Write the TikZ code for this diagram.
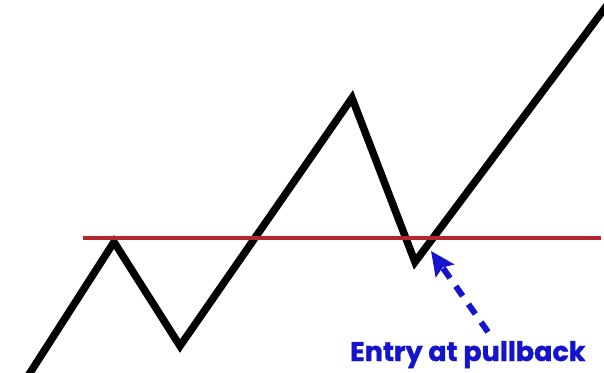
\documentclass[tikz,border=0pt]{standalone}
\usepackage{fontspec}
\setmainfont{Poppins}
\newfontfamily\tagfont[BoldFeatures={FakeBold=1.2}]{Poppins}
\usepackage{xcolor}
\usetikzlibrary{arrows.meta,positioning}
\definecolor{levelred}{RGB}{180,40,45}
\definecolor{entryblue}{RGB}{20,20,205}

\begin{document}
\begin{tikzpicture}[
      x=1pt, y=-1pt,
      price/.style={line width=7.5pt, line join=miter, black},
      level/.style={line width=3.5pt, levelred},
      hint/.style={-{Stealth[length=24pt, width=22pt, inset=4pt]}, line width=6pt,
                   dash pattern=on 12pt off 10pt, entryblue},
      tag/.style={font=\tagfont\bfseries\fontsize{27}{32}\selectfont, text=entryblue, inner sep=0pt}
    ]
    \useasboundingbox (0,0) rectangle (604,372);
    \clip (0,0) rectangle (604,372);

    % price swings
    \coordinate (start)  at (28,376);
    \coordinate (peakA)  at (114,242);
    \coordinate (lowA)   at (180,346);
    \coordinate (peakB)  at (352,98);
    \coordinate (lowB)   at (415,262);
    \coordinate (finish) at (608,4);
    \draw[price] (start) -- (peakA) -- (lowA) -- (peakB) -- (lowB) -- (finish);

    % breakout level
    \coordinate (levelL) at (83,238);
    \coordinate (levelR) at (601,238);
    \draw[level] (levelL) -- (levelR);

    % entry label and pointer
    \node[tag, anchor=base west] (entry) at (350,361) {Entry at pullback};
    \coordinate (tail) at (488,332);
    \coordinate (tip)  at (431,251);
    \draw[hint] (tail) -- (tip);
  \end{tikzpicture}
\end{document}
